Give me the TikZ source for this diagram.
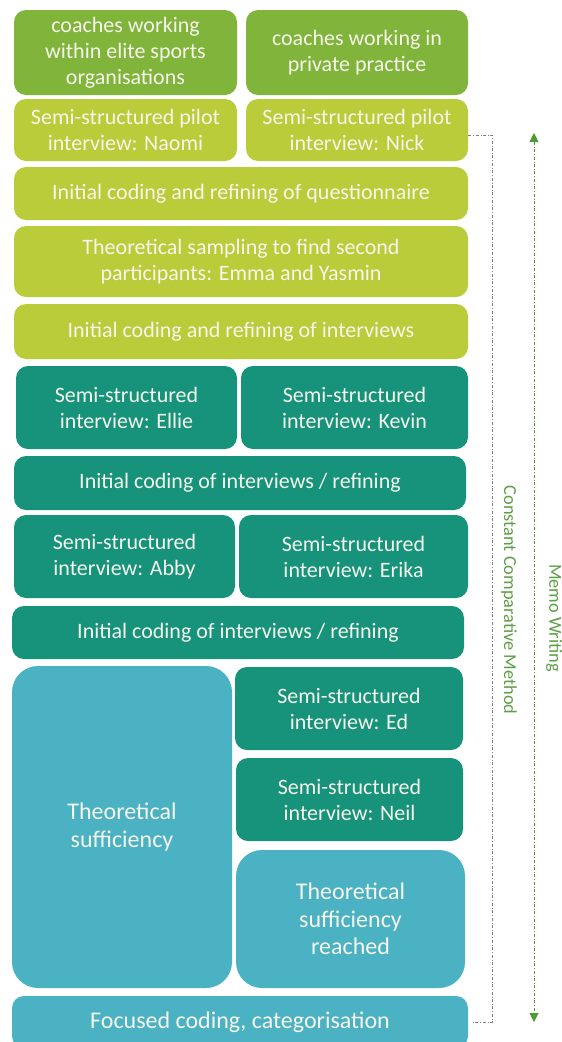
\documentclass[tikz,border=0pt]{standalone}
\usepackage{fontspec}
\setmainfont{Carlito}
\usetikzlibrary{arrows.meta}
\definecolor{cOlive}{HTML}{80B43A}
\definecolor{cLime}{HTML}{BACC3A}
\definecolor{cTeal}{HTML}{16937A}
\definecolor{cCyan}{HTML}{4BB2C3}
\definecolor{cTxt}{HTML}{F6F6EC}
\definecolor{cGreen}{HTML}{4E9A33}
\definecolor{cLbl}{HTML}{5E9E46}
\tikzset{
  blk/.style={rounded corners=12pt, draw=none, text=cTxt, align=center,
    font=\fontsize{22}{26}\selectfont, inner sep=0pt},
  bigblk/.style={blk, rounded corners=26pt, font=\fontsize{24}{27.5}\selectfont},
  ccm/.style={draw=gray, dash dot, line width=0.9pt},
  memo/.style={draw=cGreen, dash dot, line width=0.9pt, {Triangle[length=9pt,width=9pt]}-{Triangle[length=9pt,width=9pt]}},
  sidelbl/.style={text=cLbl, rotate=-90, font=\fontsize{18.3}{20}\selectfont}
}
\begin{document}
\begin{tikzpicture}[x=1pt,y=-1pt]
\useasboundingbox (0,0) rectangle (562,1042);
\fill[white] (0,0) rectangle (562,1042);
\node[blk, fill=cOlive, minimum width=223pt, minimum height=85pt] (n1) at (125.5,52.5) {coaches working\\within elite sports\\organisations};
\node[blk, fill=cOlive, minimum width=222pt, minimum height=85pt] (n2) at (357,52.5) {coaches working in\\private practice};
\node[blk, fill=cLime, minimum width=223pt, minimum height=62pt] (n3) at (125.5,130) {Semi-structured pilot\\interview: Naomi};
\node[blk, fill=cLime, minimum width=222pt, minimum height=62pt] (n4) at (357,130) {Semi-structured pilot\\interview: Nick};
\node[blk, fill=cLime, minimum width=454pt, minimum height=53pt] (n5) at (241,193.5) {Initial coding and refining of questionnaire};
\node[blk, fill=cLime, minimum width=454pt, minimum height=71pt] (n6) at (241,261.5) {Theoretical sampling to find second\\participants: Emma and Yasmin};
\node[blk, fill=cLime, minimum width=454pt, minimum height=55pt] (n7) at (241,331.5) {Initial coding and refining of interviews};
\node[blk, fill=cTeal, minimum width=221pt, minimum height=83pt] (n8) at (126.5,407.5) {Semi-structured\\interview: Ellie};
\node[blk, fill=cTeal, minimum width=227pt, minimum height=83pt] (n9) at (354.5,407.5) {Semi-structured\\interview: Kevin};
\node[blk, fill=cTeal, minimum width=452pt, minimum height=54pt] (n10) at (240,483) {Initial coding of interviews / refining};
\node[blk, fill=cTeal, minimum width=221pt, minimum height=83pt] (n11) at (124.5,556.5) {Semi-structured\\interview: Abby};
\node[blk, fill=cTeal, minimum width=229pt, minimum height=83pt] (n12) at (353.5,556.5) {Semi-structured\\interview: Erika};
\node[blk, fill=cTeal, minimum width=452pt, minimum height=53pt] (n13) at (238,632.5) {Initial coding of interviews / refining};
\node[bigblk, fill=cCyan, minimum width=220pt, minimum height=322pt] (n14) at (122,827) {Theoretical\\sufficiency};
\node[blk, fill=cTeal, minimum width=228pt, minimum height=83pt] (n15) at (349,708.5) {Semi-structured\\interview: Ed};
\node[blk, fill=cTeal, minimum width=227pt, minimum height=83pt] (n16) at (349.5,799.5) {Semi-structured\\interview: Neil};
\node[bigblk, fill=cCyan, minimum width=229pt, minimum height=138pt] (n17) at (350.5,919) {Theoretical\\sufficiency\\reached};
\node[blk, fill=cCyan, minimum width=456pt, minimum height=52pt, font=\fontsize{24}{27.5}\selectfont] (n18) at (240,1022) {Focused coding, categorisation};
\draw[ccm] ([yshift=-5pt]n4.east) -- ++(24,0) |- ([xshift=4pt]n18.east);
\coordinate (mtop) at (534,133);
\coordinate (mbot) at (534,1022);
\draw[memo] (mtop) -- (mbot);
\node[sidelbl] (lccm) at (509,600) {Constant Comparative Method};
\node[sidelbl] (lmemo) at (554,618) {Memo Writing};
\end{tikzpicture}
\end{document}
